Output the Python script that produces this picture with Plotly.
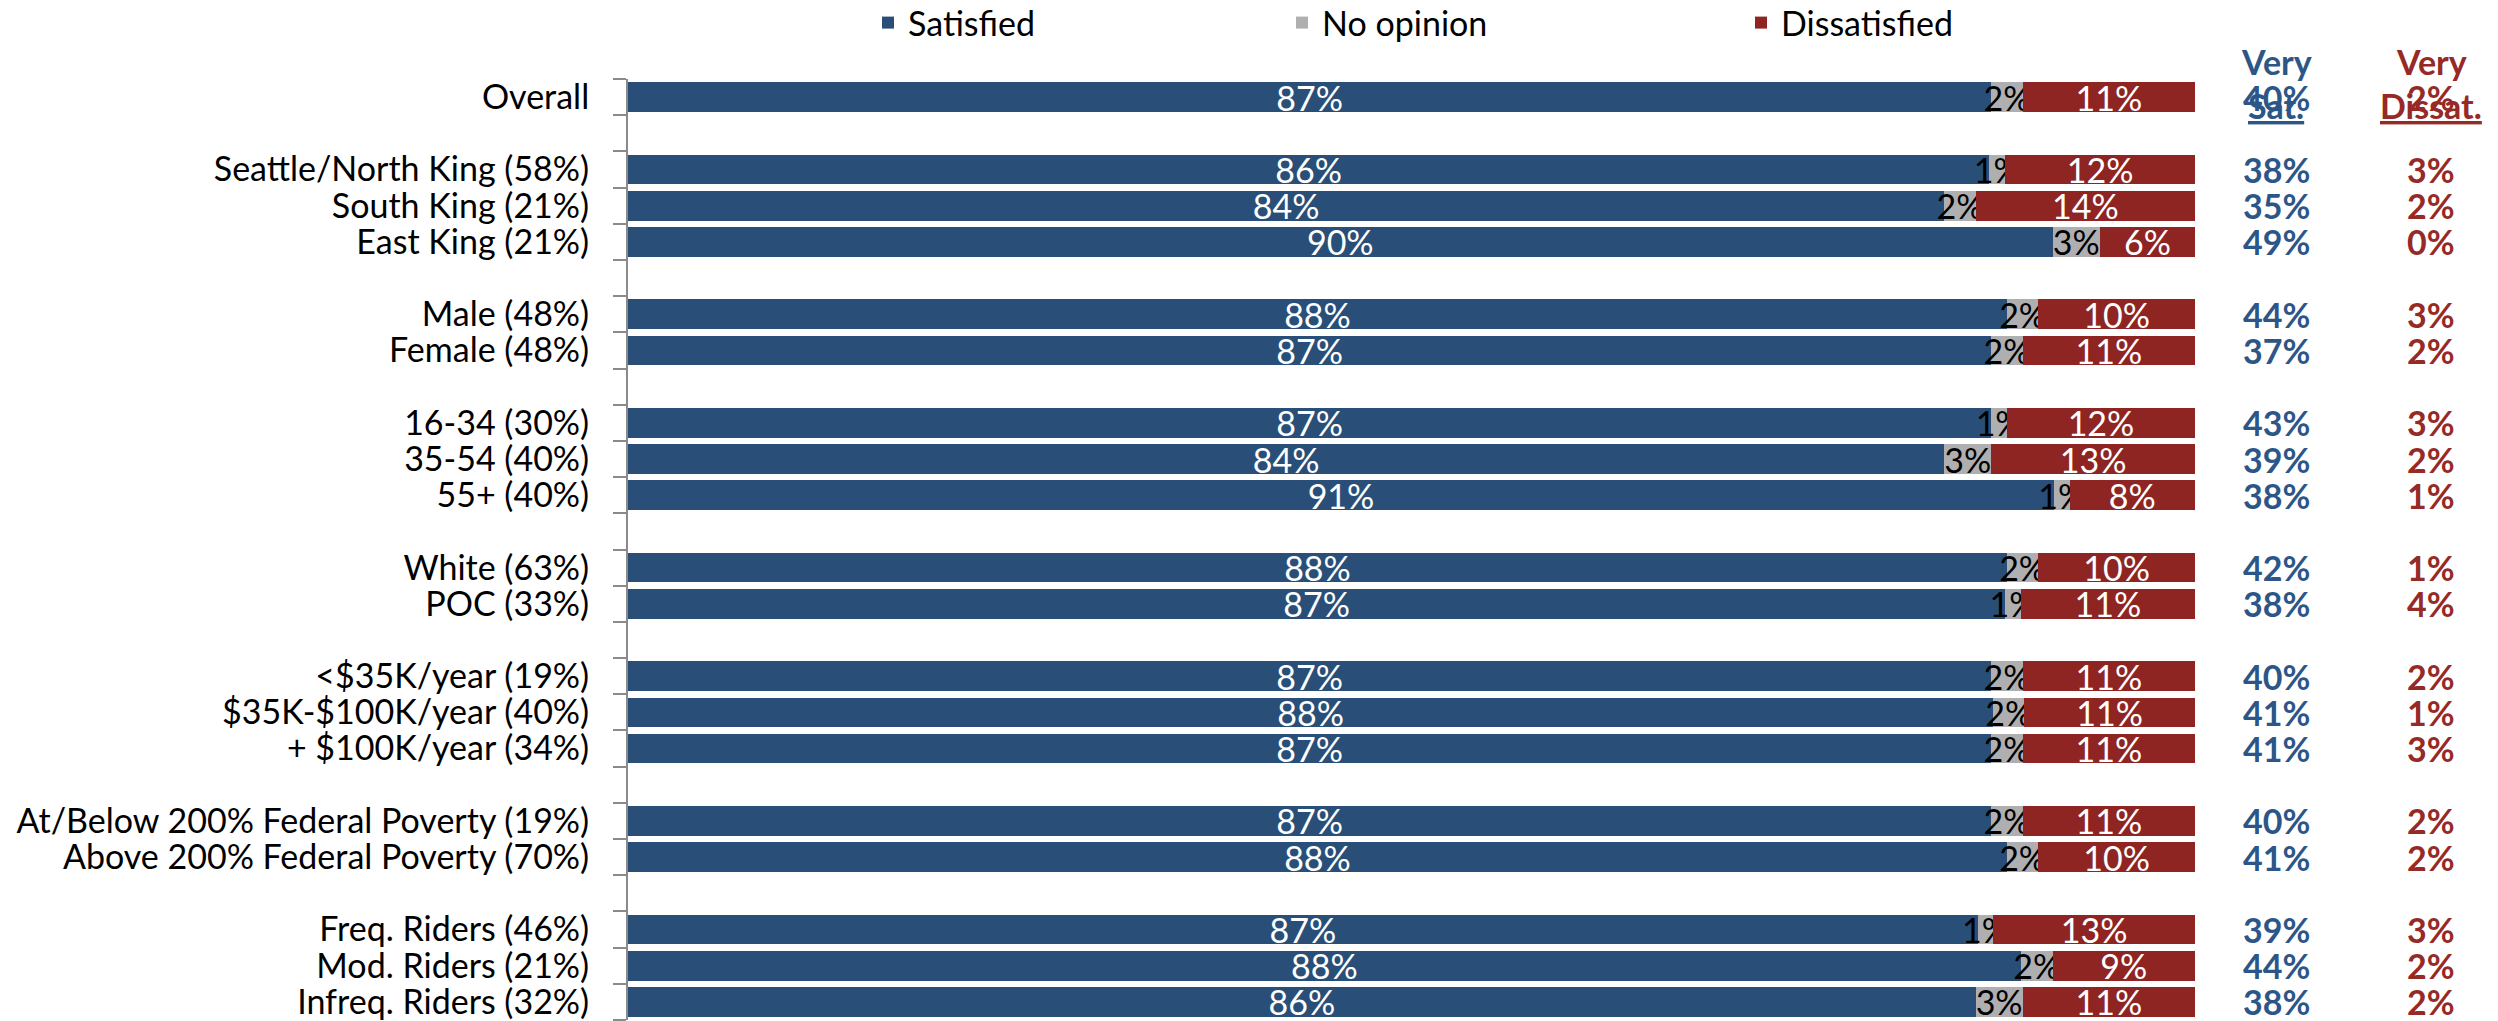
import plotly.graph_objects as go

# ---------------- data ----------------
categories = [
    "Overall",
    "Seattle/North King (58%)", "South King (21%)", "East King (21%)",
    "Male (48%)", "Female (48%)",
    "16-34 (30%)", "35-54 (40%)", "55+ (40%)",
    "White (63%)", "POC (33%)",
    "<$35K/year (19%)", "$35K-$100K/year (40%)", "+ $100K/year (34%)",
    "At/Below 200% Federal Poverty (19%)", "Above 200% Federal Poverty (70%)",
    "Freq. Riders (46%)", "Mod. Riders (21%)", "Infreq. Riders (32%)",
]
group = [0, 1, 1, 1, 2, 2, 3, 3, 3, 4, 4, 5, 5, 5, 6, 6, 7, 7, 7]

satisfied = [87, 86, 84, 90, 88, 87, 87, 84, 91, 88, 87, 87, 88, 87, 87, 88, 87, 88, 86]
no_opinion = [2, 1, 2, 3, 2, 2, 1, 3, 1, 2, 1, 2, 2, 2, 2, 2, 1, 2, 3]
dissatisfied = [11, 12, 14, 6, 10, 11, 12, 13, 8, 10, 11, 11, 11, 11, 11, 10, 13, 9, 11]
very_sat = [40, 38, 35, 49, 44, 37, 43, 39, 38, 42, 38, 40, 41, 41, 40, 41, 39, 44, 38]
very_dissat = [2, 3, 2, 0, 3, 2, 3, 2, 1, 1, 4, 2, 1, 3, 2, 2, 3, 2, 2]

series_names = ["Satisfied", "No opinion", "Dissatisfied"]

# ---------------- style ----------------
FONT = "Lato, Roboto, 'Liberation Sans', sans-serif"
FS = 34
BLUE = "#294F78"
GRAY = "#AFAFB1"
RED = "#8E2522"
TXT_BLUE = "#2D5688"
TXT_RED = "#952A26"

W, H = 2498, 1021
ML, MR, MT, MB = 628, 303, 79, 1

ypos = [i + g for i, g in enumerate(group)]
n_slots = ypos[-1] + 1

fig = go.Figure()
series = [satisfied, no_opinion, dissatisfied]
colors = [BLUE, GRAY, RED]
text_colors = ["white", "black", "white"]
legends = ["legend", "legend2", "legend3"]
for name, vals, col, tcol, lg in zip(series_names, series, colors, text_colors, legends):
    fig.add_trace(go.Bar(
        y=ypos, x=vals, orientation="h", name=name,
        marker=dict(color=col, line=dict(width=0)),
        text=[f"{v}%" for v in vals],
        textposition="inside", insidetextanchor="middle",
        constraintext="none", textangle=0,
        textfont=dict(family=FONT, size=FS, color=tcol),
        legend=lg, hoverinfo="name+text",
    ))

def px(p):
    return (p - ML) / (W - ML - MR)

def py(p):
    return (H - MB - p) / (H - MT - MB)

# right-hand columns
col_x = [px(2276), px(2431)]
for vals, cx, c in [(very_sat, col_x[0], TXT_BLUE), (very_dissat, col_x[1], TXT_RED)]:
    for y, v in zip(ypos, vals):
        fig.add_annotation(x=cx, xref="paper", y=y, yref="y", text=f"<b>{v}%</b>",
                           showarrow=False, xanchor="center", yanchor="middle",
                           font=dict(family=FONT, size=FS, color=c))

for cx, c, word in [(col_x[0], TXT_BLUE, "Sat."), (col_x[1], TXT_RED, "Dissat.")]:
    fig.add_annotation(x=cx, xref="paper", y=py(61), yref="paper", text="<b>Very</b>",
                       showarrow=False, xanchor="center", yanchor="middle",
                       font=dict(family=FONT, size=FS, color=c))
    fig.add_annotation(x=cx, xref="paper", y=py(105), yref="paper", text=f"<b><u>{word}</u></b>",
                       showarrow=False, xanchor="center", yanchor="middle",
                       font=dict(family=FONT, size=FS, color=c))

leg_common = dict(orientation="h", yanchor="middle", xanchor="left", y=py(23),
                  font=dict(family=FONT, size=FS, color="black"),
                  bgcolor="rgba(0,0,0,0)", borderwidth=0, traceorder="normal")

fig.update_layout(
    width=W, height=H,
    margin=dict(l=ML, r=MR, t=MT, b=MB, autoexpand=False),
    paper_bgcolor="white", plot_bgcolor="white",
    barmode="stack", barnorm="percent", bargap=0.18,
    font=dict(family=FONT, size=FS, color="black"),
    showlegend=True,
    legend=dict(x=px(868), **leg_common),
    legend2=dict(x=px(1282), **leg_common),
    legend3=dict(x=px(1741), **leg_common),
    xaxis=dict(visible=False, range=[0, 100], fixedrange=True),
    yaxis=dict(
        range=[n_slots - 0.5, -0.5], fixedrange=True,
        tickmode="array", tickvals=ypos, ticktext=categories,
        ticks="", ticklabelstandoff=30,
        tickfont=dict(family=FONT, size=FS, color="black"),
        showline=True, linecolor="#8A8A8A", linewidth=2,
        showgrid=False, zeroline=False,
        minor=dict(tickmode="array",
                   tickvals=[k - 0.5 for k in range(n_slots + 1)],
                   ticks="outside", ticklen=13, tickwidth=2, tickcolor="#8A8A8A",
                   showgrid=False),
    ),
)

fig.write_html("out.html", config={"displayModeBar": False},
               post_script="document.body.style.margin='0';")
